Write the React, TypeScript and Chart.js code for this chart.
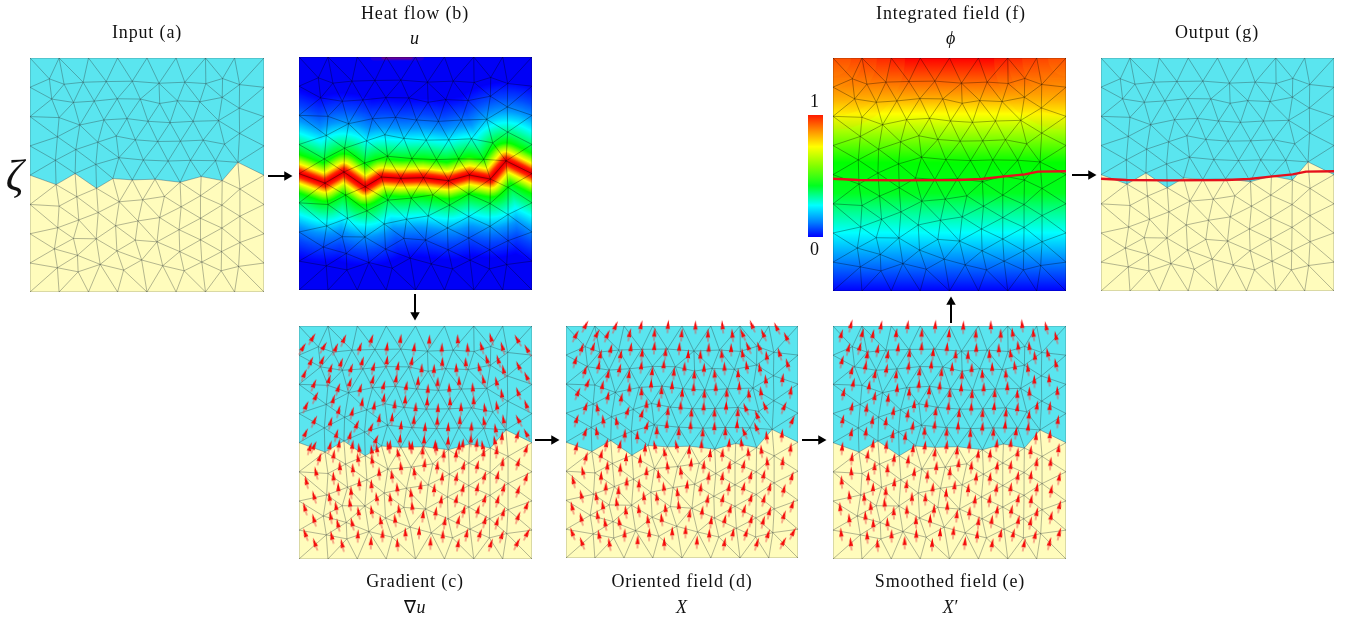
import React, { useEffect, useRef } from "react";
import { Chart, registerables } from "chart.js";

Chart.register(...registerables);

// ---- mesh vertices (mesh units, y grows downward) ----
const meshEdgeTop = [[30, 25], [117, 25], [205, 25], [292, 25], [380, 25], [467, 25], [555, 25], [642, 25], [730, 25]];
const meshEdgeBottom = [[30, 720], [117, 720], [205, 720], [292, 720], [380, 720], [467, 720], [555, 720], [642, 720], [730, 720]];
const meshEdgeLeft = [[30, 112], [30, 199], [30, 286], [30, 373], [30, 460], [30, 547], [30, 634]];
const meshEdgeRight = [[730, 112], [730, 199], [730, 286], [730, 373], [730, 460], [730, 547], [730, 634]];
const meshColumn1 = [[88, 87], [95, 147], [117, 202], [112, 259], [106, 329], [108, 401], [117, 465], [113, 529], [103, 592], [112, 648]];
const meshColumn2 = [[132, 103], [160, 157], [179, 224], [167, 297], [165, 368], [170, 437], [176, 506], [160, 561], [172, 611], [174, 660]];
const meshColumn3 = [[189, 97], [222, 153], [251, 209], [233, 275], [227, 341], [229, 412], [234, 484], [228, 562], [240, 638]];
const meshColumn4 = [[258, 95], [291, 146], [320, 205], [288, 257], [296, 321], [278, 383], [297, 452], [286, 523], [290, 598], [310, 655]];
const meshColumn5 = [[336, 94], [360, 147], [383, 213], [345, 268], [369, 328], [336, 387], [367, 446], [353, 509], [345, 566], [364, 625]];
const meshColumn6 = [[416, 100], [418, 160], [449, 217], [412, 273], [443, 331], [404, 385], [432, 436], [418, 499], [410, 571], [427, 642]];
const meshColumn7 = [[493, 97], [471, 152], [518, 213], [480, 272], [510, 329], [479, 394], [482, 467], [476, 535], [478, 600], [491, 657]];
const meshColumn8 = [[556, 101], [538, 155], [594, 211], [548, 269], [585, 330], [542, 377], [540, 434], [540, 501], [540, 565], [544, 631]];
const meshColumn9 = [[606, 86], [605, 142], [612, 281], [605, 389], [604, 462], [604, 530], [603, 600], [602, 657]];
const meshColumn10 = [[657, 104], [656, 174], [657, 249], [652, 335], [658, 414], [658, 495], [658, 573], [654, 644]];

const interfaceLine = [[30, 373], [108, 401], [165, 368], [229, 412], [278, 383], [336, 387], [404, 385], [479, 394], [542, 377], [605, 389], [652, 335], [730, 373]];
const levelSetLine = [[30, 385], [106, 389], [236, 390], [406, 389], [476, 386], [546, 378], [606, 372], [646, 364], [730, 363]];
const heatSpot = [[255, 25], [395, 25]];
const heatSpotCore = [[285, 25], [365, 25]];
const phiCorners = [[30, 25], [730, 25]];
const panelTopEdge = [[30, 25], [730, 25]];

// arrow tilt (degrees clockwise) read per 8x8 cell of the mesh
const tiltsGradient = [
  [28, 20, 15, 5, 0, -5, -18, -32],
  [20, 15, 12, 8, 0, -5, -15, -28],
  [22, 12, 6, 2, 0, -3, -10, -22],
  [22, 12, 20, 2, 0, 0, -12, -30],
  [15, 5, -10, -15, 0, 3, 3, 15],
  [-15, -5, -5, -8, 3, 8, 10, 15],
  [-18, -10, -12, -8, 5, 10, 12, 18],
  [-22, -15, 0, -5, 0, 8, 15, 25],
];
const tiltsOriented = [
  [25, 20, 10, 3, -2, -8, -25, -28],
  [15, 10, 5, 2, 0, -3, -10, -18],
  [20, 8, 0, 0, 0, -2, -8, 5],
  [15, -10, 15, 0, 0, 0, -25, 20],
  [12, 10, 0, -15, 0, 3, -8, 3],
  [-15, 0, 0, -8, 3, 5, 10, 12],
  [-15, -10, -8, -8, 5, 10, 12, 15],
  [-22, -12, 0, -3, 0, 8, 15, 25],
];
const tiltsSmoothed = [
  [12, 8, 5, 2, 0, -3, -8, -15],
  [12, 8, 5, 3, 0, -3, -8, -15],
  [10, 5, 3, 2, 0, 0, -3, -5],
  [8, 5, 5, 3, 0, 3, 5, 3],
  [3, 5, 5, 5, 3, 3, 3, 3],
  [-5, 0, 3, 3, 3, 5, 5, 8],
  [-8, -5, -3, 0, 3, 5, 8, 10],
  [-8, -5, -2, 0, 3, 8, 10, 12],
];

// colour ramps
const heatRamp: [number, number[]][] = [
  [0, [205, 0, 0]], [5, [255, 0, 0]], [12, [255, 40, 0]], [18, [255, 130, 0]], [28, [255, 255, 0]],
  [38, [170, 255, 0]], [55, [0, 255, 0]], [85, [0, 255, 128]], [115, [0, 255, 255]], [150, [0, 150, 255]], [190, [0, 70, 255]], [235, [0, 0, 255]],
];
const phiStops: [number, string][] = [
  [0, "#ff0000"], [0.09, "#ff5a00"], [0.18, "#ffb400"], [0.24, "#ffff00"], [0.32, "#a0ff00"], [0.45, "#00ff00"],
  [0.58, "#00ff20"], [0.66, "#00ff90"], [0.75, "#00ffff"], [0.86, "#0090ff"], [1, "#0000ff"],
];
const colorbarStops: [number, string][] = [
  [0, "#ff1a00"], [0.13, "#ff9000"], [0.26, "#ffff00"], [0.42, "#80ff00"], [0.58, "#00ff20"], [0.74, "#00ffff"], [0.88, "#0080ff"], [1, "#0000ff"],
];
const phiCornerRadii = [72, 58, 44, 30, 18];

const connectorArrows = [
  { from: [268, 176], to: [287, 176], turn: 90 },
  { from: [415, 294], to: [415, 315], turn: 180 },
  { from: [535, 440], to: [554, 440], turn: 90 },
  { from: [802, 440], to: [821, 440], turn: 90 },
  { from: [951, 323], to: [951, 302], turn: 0 },
  { from: [1072, 175], to: [1091, 175], turn: 90 },
];

const CYAN = "#5ae5ef";
const YELLOW = "#fffcbc";
const PAD = 10;

const vertices: number[][] = [
  ...meshEdgeTop, ...meshEdgeBottom, ...meshEdgeLeft, ...meshEdgeRight,
  ...meshColumn1, ...meshColumn2, ...meshColumn3, ...meshColumn4, ...meshColumn5,
  ...meshColumn6, ...meshColumn7, ...meshColumn8, ...meshColumn9, ...meshColumn10,
];

// Delaunay connectivity of the mesh vertices (Bowyer-Watson)
function triangulate(pts: number[][]): number[][] {
  const all = [...pts, [-20000, -20000], [40000, -20000], [380, 60000]];
  const n = pts.length;
  let tris = [[n, n + 1, n + 2]];
  const inCircle = (t: number[], p: number[]) => {
    const [a, b, c] = t.map((i) => all[i]);
    const ax = a[0] - p[0], ay = a[1] - p[1];
    const bx = b[0] - p[0], by = b[1] - p[1];
    const cx = c[0] - p[0], cy = c[1] - p[1];
    const det =
      (ax * ax + ay * ay) * (bx * cy - cx * by) -
      (bx * bx + by * by) * (ax * cy - cx * ay) +
      (cx * cx + cy * cy) * (ax * by - bx * ay);
    const orient = (b[0] - a[0]) * (c[1] - a[1]) - (b[1] - a[1]) * (c[0] - a[0]);
    return orient > 0 ? det > 1e-6 : det < -1e-6;
  };
  for (let i = 0; i < n; i++) {
    const bad = tris.filter((t) => inCircle(t, pts[i]));
    const count = new Map<string, number[]>();
    const seen = new Map<string, number>();
    bad.forEach((t) => {
      [[t[0], t[1]], [t[1], t[2]], [t[2], t[0]]].forEach(([u, v]) => {
        const k = u < v ? `${u}_${v}` : `${v}_${u}`;
        seen.set(k, (seen.get(k) || 0) + 1);
        count.set(k, [u, v]);
      });
    });
    tris = tris.filter((t) => !bad.includes(t));
    seen.forEach((c, k) => {
      if (c === 1) {
        const [u, v] = count.get(k)!;
        tris.push([u, v, i]);
      }
    });
  }
  return tris.filter((t) => t.every((i) => i < n)).filter((t) => {
    const [a, b, c] = t.map((i) => pts[i]);
    return Math.abs((b[0] - a[0]) * (c[1] - a[1]) - (b[1] - a[1]) * (c[0] - a[0])) > 1;
  });
}

const triangles = triangulate(vertices);

function meshEdges() {
  const keys = new Set<string>();
  const out: { x: number; y: number }[] = [];
  triangles.forEach((t) => {
    [[t[0], t[1]], [t[1], t[2]], [t[2], t[0]]].forEach(([u, v]) => {
      const k = u < v ? `${u}_${v}` : `${v}_${u}`;
      if (keys.has(k)) return;
      keys.add(k);
      out.push({ x: vertices[u][0], y: vertices[u][1] }, { x: vertices[v][0], y: vertices[v][1] }, { x: NaN, y: NaN });
    });
  });
  return out;
}
const edgeData = meshEdges();
const centroids = triangles.map((t) => ({
  x: (vertices[t[0]][0] + vertices[t[1]][0] + vertices[t[2]][0]) / 3,
  y: (vertices[t[0]][1] + vertices[t[1]][1] + vertices[t[2]][1]) / 3,
}));

const toXY = (l: number[][]) => l.map(([x, y]) => ({ x, y }));

function interfaceAt(x: number) {
  for (let i = 1; i < interfaceLine.length; i++) {
    const [x0, y0] = interfaceLine[i - 1];
    const [x1, y1] = interfaceLine[i];
    if (x <= x1) return y0 + ((y1 - y0) * (x - x0)) / (x1 - x0);
  }
  return 373;
}

function arrowGlyph(below: boolean) {
  const c = document.createElement("canvas");
  c.width = 8;
  c.height = 30;
  const g = c.getContext("2d")!;
  const o = below ? 15 : 1;
  g.strokeStyle = "rgba(235,70,70,0.45)";
  g.lineWidth = 2;
  g.beginPath();
  g.moveTo(4, o + 8);
  g.lineTo(4, o + 13.5);
  g.stroke();
  g.fillStyle = "#f50808";
  g.beginPath();
  g.moveTo(4.4, o);
  g.lineTo(6.2, o + 9.5);
  g.lineTo(4, o + 8.8);
  g.lineTo(1.8, o + 9.5);
  g.closePath();
  g.fill();
  return c;
}

const tiltAt = (grid: number[][], p: { x: number; y: number }) => {
  const col = Math.min(7, Math.floor((p.x - 30) / 87.5));
  const row = Math.min(7, Math.floor((p.y - 25) / 87));
  return grid[row][col];
};

const regionFills = () => [
  { data: toXY(interfaceLine), showLine: true, pointRadius: 0, borderWidth: 0, backgroundColor: YELLOW, fill: "start" },
  { data: toXY(interfaceLine), showLine: true, pointRadius: 0, borderWidth: 0, backgroundColor: CYAN, fill: "end" },
];
// the non-empty dash keeps Chart.js off its x-sorted fast path, which would merge the unsorted edges
const edgeSet = (color: string, width: number) => ({
  data: edgeData, showLine: true, pointRadius: 0, borderWidth: width, borderColor: color, spanGaps: false,
  borderDash: [100000, 1],
});
const arrowSet = (pts: { x: number; y: number }[], grid: number[][], style: HTMLCanvasElement) => ({
  data: pts, showLine: false, pointStyle: style, pointRadius: 2, clip: false,
  pointRotation: pts.map((p) => tiltAt(grid, p)),
});
const gradientFill = (stops: [number, string][], lo: number, hi: number) => (ctx: any) => {
  const y = ctx.chart.scales.y;
  const y0 = y ? y.getPixelForValue(lo) : NaN;
  const y1 = y ? y.getPixelForValue(hi) : NaN;
  if (!Number.isFinite(y0) || !Number.isFinite(y1)) return stops[0][1];
  const g = ctx.chart.ctx.createLinearGradient(0, y0, 0, y1);
  stops.forEach(([p, c]) => g.addColorStop(p, c));
  return g;
};
const redLine = {
  data: toXY(levelSetLine), showLine: true, pointRadius: 0, borderWidth: 2.4, borderColor: "#e5101c", borderJoinStyle: "round",
};

function heatBands() {
  const sets: any[] = [];
  const top = heatRamp[heatRamp.length - 1][0];
  for (let d = top; d > 0; d -= 3) {
    let i = 1;
    while (heatRamp[i][0] < d) i++;
    const [d0, c0] = heatRamp[i - 1];
    const [d1, c1] = heatRamp[i];
    const f = (d - d0) / (d1 - d0);
    const c = c0.map((v, k) => Math.round(v + (c1[k] - v) * f));
    sets.push({
      data: toXY(interfaceLine), showLine: true, pointRadius: 0,
      borderColor: `rgb(${c.join(",")})`, borderWidth: (2 * d) / 3 + 0.6,
      borderJoinStyle: "round", borderCapStyle: "square",
    });
  }
  return sets;
}

const EDGE_LIGHT = "rgba(45,55,55,0.6)";
const EDGE_DARK = "rgba(0,0,0,0.6)";

function panelDatasets(kind: string, up: HTMLCanvasElement, down: HTMLCanvasElement) {
  const fills = regionFills();
  const above = centroids.filter((p) => p.y < interfaceAt(p.x));
  const below = centroids.filter((p) => p.y >= interfaceAt(p.x));
  switch (kind) {
    case "a":
      return [...fills, edgeSet(EDGE_LIGHT, 0.6)];
    case "b":
      return [
        { data: toXY(panelTopEdge), showLine: true, pointRadius: 0, borderWidth: 0, backgroundColor: "#0000f6", fill: "start" },
        ...heatBands(),
        { data: toXY(heatSpot), showLine: true, pointRadius: 0, borderWidth: 7, borderColor: "rgba(70,0,190,0.5)", borderCapStyle: "round" },
        { data: toXY(heatSpotCore), showLine: true, pointRadius: 0, borderWidth: 5, borderColor: "rgba(120,0,130,0.7)", borderCapStyle: "round" },
        edgeSet(EDGE_DARK, 0.55),
      ];
    case "c":
      return [...fills, edgeSet(EDGE_LIGHT, 0.6), arrowSet(above, tiltsGradient, down), arrowSet(below, tiltsGradient, up)];
    case "d":
      return [...fills, edgeSet(EDGE_LIGHT, 0.6), arrowSet(centroids, tiltsOriented, up)];
    case "e":
      return [...fills, edgeSet(EDGE_LIGHT, 0.6), arrowSet(centroids, tiltsSmoothed, up)];
    case "f":
      return [
        { data: toXY(panelTopEdge), showLine: true, pointRadius: 0, borderWidth: 0, backgroundColor: gradientFill(phiStops, 25, 720), fill: "start" },
        ...phiCornerRadii.map((radius) => ({
          data: toXY(phiCorners), showLine: false, pointRadius: radius, borderWidth: 0, backgroundColor: "rgba(255,170,0,0.12)",
        })),
        edgeSet(EDGE_DARK, 0.55),
        redLine,
      ];
    default:
      return [...fills, edgeSet(EDGE_LIGHT, 0.6), redLine];
  }
}

const panels = [
  { kind: "a", left: 30, top: 58, size: 234 },
  { kind: "b", left: 299, top: 57, size: 233 },
  { kind: "c", left: 299, top: 326, size: 233 },
  { kind: "d", left: 566, top: 326, size: 232 },
  { kind: "e", left: 833, top: 326, size: 233 },
  { kind: "f", left: 833, top: 58, size: 233 },
  { kind: "g", left: 1101, top: 58, size: 233 },
];

const labels: { text: React.ReactNode; x: number; y: number; size?: number }[] = [
  { text: "Input (a)", x: 147, y: 32 },
  { text: "Heat flow (b)", x: 415, y: 13 },
  { text: <i>u</i>, x: 415, y: 38 },
  { text: "Integrated field (f)", x: 951, y: 13 },
  { text: <i>ϕ</i>, x: 951, y: 38 },
  { text: "Output (g)", x: 1217, y: 32 },
  { text: "Gradient (c)", x: 415, y: 581 },
  { text: <>∇<i>u</i></>, x: 415, y: 607 },
  { text: "Oriented field (d)", x: 682, y: 581 },
  { text: <i>X</i>, x: 682, y: 607 },
  { text: "Smoothed field (e)", x: 950, y: 581 },
  { text: <><i>X</i>′</>, x: 951, y: 607 },
  { text: <i>ζ</i>, x: 15, y: 176, size: 44 },
  { text: "1", x: 815, y: 101 },
  { text: "0", x: 815, y: 249 },
];

const hiddenScale = (min: number, max: number, reverse = false) => ({ type: "linear", min, max, reverse, display: false });
const baseOptions = (extra: any) => ({
  responsive: false,
  animation: false,
  events: [],
  devicePixelRatio: 1,
  layout: { autoPadding: false },
  plugins: { legend: { display: false }, tooltip: { enabled: false }, title: { display: false } },
  ...extra,
});

export default function App() {
  const panelRefs = useRef<(HTMLCanvasElement | null)[]>([]);
  const barRef = useRef<HTMLCanvasElement | null>(null);
  const overlayRef = useRef<HTMLCanvasElement | null>(null);

  useEffect(() => {
    const up = arrowGlyph(false);
    const down = arrowGlyph(true);
    const charts: Chart[] = [];
    panels.forEach((p, i) => {
      charts.push(
        new Chart(panelRefs.current[i]!, {
          type: "scatter",
          data: { datasets: panelDatasets(p.kind, up, down).reverse() as any },
          options: baseOptions({
            layout: { padding: PAD, autoPadding: false },
            scales: { x: hiddenScale(30, 730), y: hiddenScale(25, 720, true) },
          }) as any,
        })
      );
    });
    charts.push(
      new Chart(barRef.current!, {
        type: "scatter",
        data: {
          datasets: [
            { data: [{ x: 0, y: 1 }, { x: 1, y: 1 }], showLine: true, pointRadius: 0, borderWidth: 0, backgroundColor: gradientFill(colorbarStops, 1, 0), fill: "start" },
          ] as any,
        },
        options: baseOptions({ scales: { x: hiddenScale(0, 1), y: hiddenScale(0, 1) } }) as any,
      })
    );
    charts.push(
      new Chart(overlayRef.current!, {
        type: "scatter",
        data: {
          datasets: connectorArrows.map((a) => ({
            data: [{ x: a.from[0], y: a.from[1] }, { x: a.to[0], y: a.to[1] }],
            showLine: true,
            borderColor: "#000",
            backgroundColor: "#000",
            borderWidth: 2,
            pointStyle: "triangle",
            pointRadius: [0, 5.5],
            pointBorderWidth: 0,
            pointRotation: [0, a.turn],
          })) as any,
        },
        options: baseOptions({ scales: { x: hiddenScale(0, 1347), y: hiddenScale(0, 621, true) } }) as any,
      })
    );
    charts.forEach((c) => c.update());
    return () => charts.forEach((c) => c.destroy());
  }, []);

  return (
    <div style={{ position: "absolute", left: 0, top: 0, width: 1347, height: 621, overflow: "hidden", background: "#fff", fontFamily: '"Liberation Serif", serif', color: "#111", letterSpacing: 0.85 }}>
      {panels.map((p, i) => (
        <canvas
          key={p.kind}
          ref={(el) => { panelRefs.current[i] = el; }}
          width={p.size + 2 * PAD}
          height={p.size + 2 * PAD}
          style={{ position: "absolute", left: p.left - PAD, top: p.top - PAD }}
        />
      ))}
      <canvas ref={barRef} width={15} height={122} style={{ position: "absolute", left: 808, top: 115 }} />
      <canvas ref={overlayRef} width={1347} height={621} style={{ position: "absolute", left: 0, top: 0, pointerEvents: "none" }} />
      {labels.map((l, i) => (
        <div
          key={i}
          style={{ position: "absolute", left: l.x, top: l.y, transform: "translate(-50%,-50%)", whiteSpace: "nowrap", fontSize: l.size ?? 18, lineHeight: 1 }}
        >
          {l.text}
        </div>
      ))}
    </div>
  );
}
